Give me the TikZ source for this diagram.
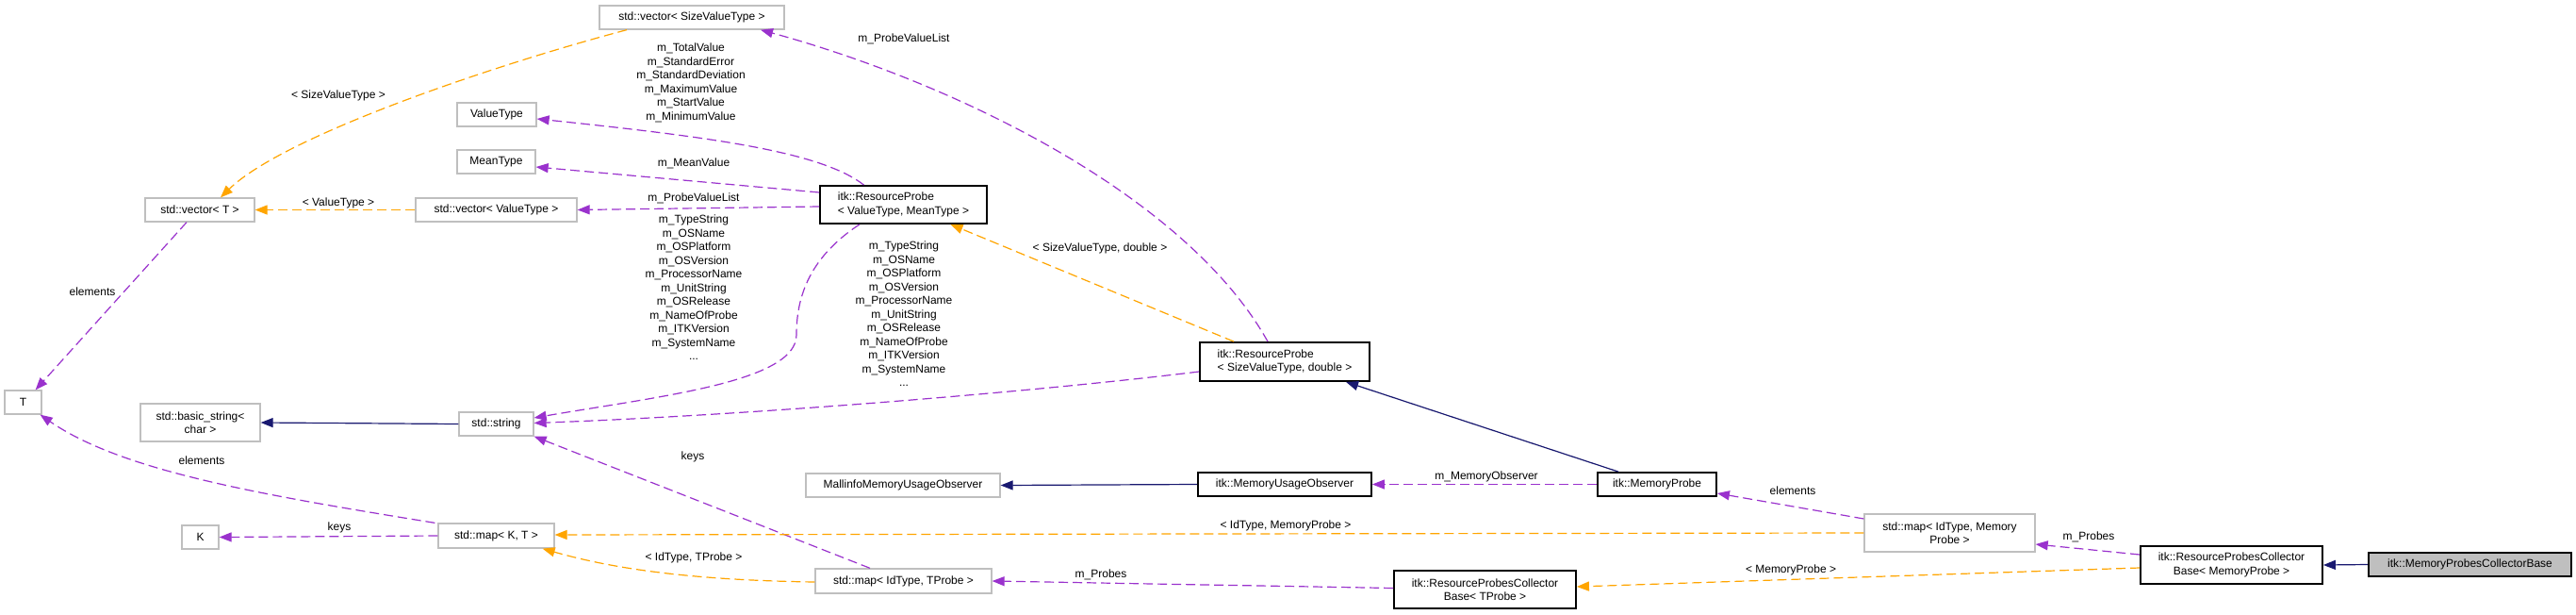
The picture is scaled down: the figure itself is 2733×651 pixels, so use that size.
\documentclass[tikz,border=0pt]{standalone}
\usepackage{fontspec}
\setmainfont{Liberation Sans}
\usetikzlibrary{arrows.meta}
\definecolor{edgepurple}{HTML}{9A32CD}
\definecolor{edgeorange}{HTML}{FFA500}
\definecolor{edgenavy}{HTML}{191970}
\definecolor{boxgrey}{HTML}{BFBFBF}
\newcommand{\lblfont}{\fontsize{12}{14.5}\selectfont}
\tikzset{
  gbox/.style={draw=boxgrey, line width=1.3pt, fill=white, inner sep=0pt, font=\lblfont, align=center},
  bbox/.style={draw=black, line width=1.8pt, fill=white, inner sep=0pt, font=\lblfont},
  curbox/.style={draw=black, line width=1.8pt, fill=boxgrey, inner sep=0pt, font=\lblfont, align=center},
  lab/.style={inner sep=0pt, font=\lblfont, align=center},
  usage/.style={-{Triangle[length=13pt,width=10pt,fill=edgepurple]}, draw=edgepurple, line width=1.2pt, dash pattern=on 10pt off 5pt},
  tmpl/.style={-{Triangle[length=13pt,width=10pt,fill=edgeorange]}, draw=edgeorange, line width=1.2pt, dash pattern=on 10pt off 5pt},
  inherit/.style={-{Triangle[length=13pt,width=10pt,fill=edgenavy]}, draw=edgenavy, line width=1.2pt}
}
\begin{document}
\begin{tikzpicture}[x=1pt,y=-1pt]
\useasboundingbox[fill=white] (0,0) rectangle (2733,651);

% nodes
\node[gbox, minimum width=196pt, minimum height=25pt] (vecSVT) at (734,18.5) {std::vector< SizeValueType >};
\node[gbox, minimum width=116pt, minimum height=25pt] (vecT) at (212,222.5) {std::vector< T >};
\node[gbox, minimum width=84pt, minimum height=25pt] (VT) at (527,121.5) {ValueType};
\node[gbox, minimum width=83pt, minimum height=25pt] (MT) at (526.5,171.5) {MeanType};
\node[gbox, minimum width=171pt, minimum height=25pt] (vecVT) at (526.5,222.5) {std::vector< ValueType >};
\node[bbox, minimum width=177pt, minimum height=40pt, align=left] (RPVM) at (958.5,217) {itk::ResourceProbe\\< ValueType, MeanType >};
\node[gbox, minimum width=39pt, minimum height=25pt] (T) at (24.5,426.5) {T};
\node[gbox, minimum width=127pt, minimum height=40pt] (bstr) at (212.5,448) {std::basic\_string<\\char >};
\node[gbox, minimum width=79pt, minimum height=25pt] (str) at (526.5,449.5) {std::string};
\node[gbox, minimum width=39pt, minimum height=25pt] (K) at (212.5,569.5) {K};
\node[gbox, minimum width=123pt, minimum height=26pt] (mapKT) at (526.5,568) {std::map< K, T >};
\node[gbox, minimum width=206pt, minimum height=25pt] (mall) at (958,514.5) {MallinfoMemoryUsageObserver};
\node[gbox, minimum width=187pt, minimum height=26pt] (mapIT) at (958.5,616) {std::map< IdType, TProbe >};
\node[bbox, minimum width=180pt, minimum height=41pt, align=left] (RPSD) at (1363,383.5) {itk::ResourceProbe\\< SizeValueType, double >};
\node[bbox, minimum width=184pt, minimum height=25pt] (MUO) at (1363,513.5) {itk::MemoryUsageObserver};
\node[bbox, minimum width=126pt, minimum height=25pt] (MP) at (1758,513.5) {itk::MemoryProbe};
\node[bbox, minimum width=193pt, minimum height=40pt, align=center] (RPCBT) at (1575.5,625) {itk::ResourceProbesCollector\\Base< TProbe >};
\node[gbox, minimum width=181pt, minimum height=40pt] (mapIM) at (2068.5,565) {std::map< IdType, Memory\\Probe >};
\node[bbox, minimum width=193pt, minimum height=40pt, align=center] (RPCBM) at (2367.5,599) {itk::ResourceProbesCollector\\Base< MemoryProbe >};
\node[curbox, minimum width=215pt, minimum height=25pt] (MPCB) at (2620.5,598.5) {itk::MemoryProbesCollectorBase};

% edges
\draw[tmpl] ([xshift=-69pt]vecSVT.south) .. controls (520,70) and (300,145) .. ([xshift=22pt]vecT.north);
\draw[tmpl] (vecVT.west) -- (vecT.east);
\draw[usage] ([xshift=-14pt]vecT.south) -- ([xshift=-7pt]T.north east);
\draw[usage] ([xshift=-3pt]mapKT.north west) .. controls (280,525) and (130,500) .. ([xshift=-2pt]T.south east);
\draw[usage] (mapKT.west) -- (K.east);
\draw[inherit] (str.west) -- (bstr.east);
\draw[usage] ([xshift=-42pt]RPVM.north) .. controls (870,160) and (750,145) .. ([yshift=-4.5pt]VT.east);
\draw[usage] ([yshift=13pt]RPVM.west) -- ([yshift=-5.5pt]MT.east);
\draw[usage] ([yshift=-2pt]RPVM.west) -- (vecVT.east);
\coordinate (bend) at (845,355);
\draw[usage] ([xshift=-46.5pt]RPVM.south) .. controls (855,275) and (845,320) .. (bend) .. controls (845,405) and (700,420) .. ([yshift=6.5pt]str.east);
\draw[usage] ([yshift=-10.5pt]RPSD.west) .. controls (1100,415) and (800,440) .. ([yshift=1pt]str.east);
\draw[usage] ([xshift=-18pt]RPSD.north) .. controls (1260,210) and (1020,90) .. ([xshift=73pt]vecSVT.south);
\draw[tmpl] ([xshift=-54pt]RPSD.north) -- ([xshift=50pt]RPVM.south);
\draw[usage] ([xshift=-35.5pt]mapIT.north) -- (str.south east);
\draw[tmpl] ([yshift=-1pt]mapIT.west) .. controls (720,615) and (640,600) .. ([xshift=-13pt]mapKT.south east);
\draw[inherit] ([xshift=-41pt]MP.north) -- ([xshift=65pt]RPSD.south);
\draw[inherit] (MUO.west) -- (mall.east);
\draw[usage] (MP.west) -- (MUO.east);
\draw[usage] ([yshift=15pt]mapIM.west) -- ([yshift=-9.5pt]MP.east);
\draw[tmpl] (mapIM.west) -- ([yshift=1pt]mapKT.east);
\draw[usage] ([yshift=11pt]RPCBM.west) -- ([yshift=-12pt]mapIM.east);
\draw[tmpl] ([yshift=-3pt]RPCBM.west) -- ([yshift=3pt]RPCBT.east);
\draw[usage] ([yshift=1.5pt]RPCBT.west) -- (mapIT.east);
\draw[inherit] (MPCB.west) -- (RPCBM.east);

% labels
\node[lab] (l1) at (359,101) {< SizeValueType >};
\node[lab] (l2) at (359,215) {< ValueType >};
\node[lab] (l3) at (98,309) {elements};
\node[lab] (l4) at (214,488) {elements};
\node[lab] (l5) at (360,559) {keys};
\node[lab] (l6) at (733,88) {m\_TotalValue\\m\_StandardError\\m\_StandardDeviation\\m\_MaximumValue\\m\_StartValue\\m\_MinimumValue};
\node[lab] (l7) at (736,173) {m\_MeanValue};
\node[lab] (l8) at (736,210) {m\_ProbeValueList};
\node[lab] (l9) at (736,305) {m\_TypeString\\m\_OSName\\m\_OSPlatform\\m\_OSVersion\\m\_ProcessorName\\m\_UnitString\\m\_OSRelease\\m\_NameOfProbe\\m\_ITKVersion\\m\_SystemName\\...};
\node[lab] (l10) at (959,333) {m\_TypeString\\m\_OSName\\m\_OSPlatform\\m\_OSVersion\\m\_ProcessorName\\m\_UnitString\\m\_OSRelease\\m\_NameOfProbe\\m\_ITKVersion\\m\_SystemName\\...};
\node[lab] (l11) at (959,41) {m\_ProbeValueList};
\node[lab] (l12) at (1167,263) {< SizeValueType, double >};
\node[lab] (l13) at (735,484) {keys};
\node[lab] (l14) at (736,591) {< IdType, TProbe >};
\node[lab] (l15) at (1577,505) {m\_MemoryObserver};
\node[lab] (l16) at (1364,557) {< IdType, MemoryProbe >};
\node[lab] (l17) at (1902,520) {elements};
\node[lab] (l18) at (1168,609) {m\_Probes};
\node[lab] (l19) at (2216,569) {m\_Probes};
\node[lab] (l20) at (1900,604) {< MemoryProbe >};
\end{tikzpicture}
\end{document}
